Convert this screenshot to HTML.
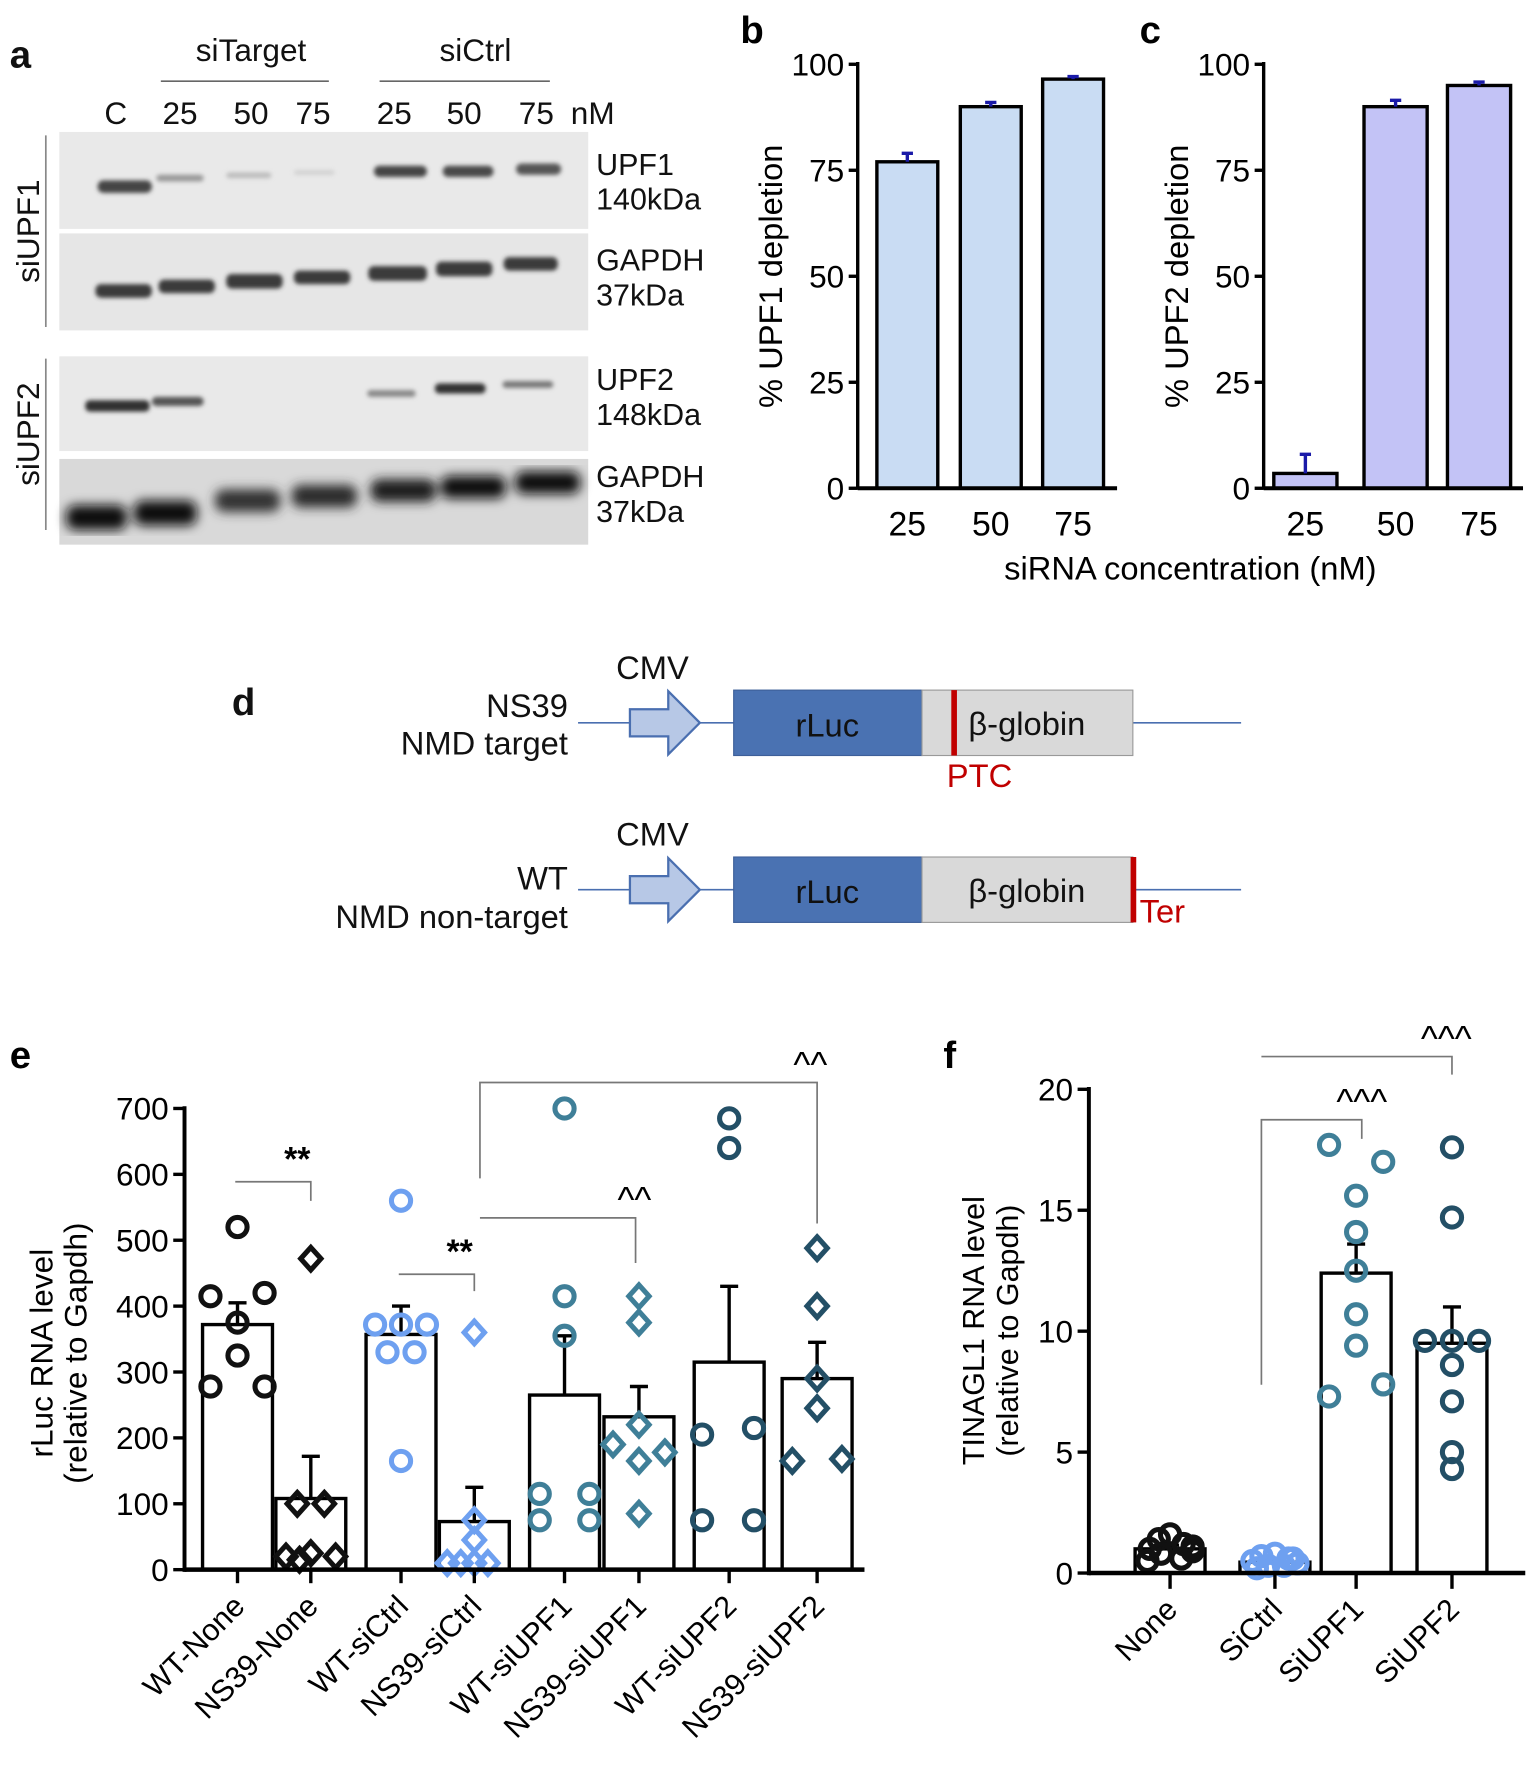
<!DOCTYPE html>
<html><head><meta charset="utf-8"><style>
html,body{margin:0;padding:0;background:#fff}
svg{display:block;font-family:"Liberation Sans",Arial,sans-serif}
</style></head><body>
<svg id="fig" width="1535" height="1767" viewBox="0 0 1360 1567" xmlns="http://www.w3.org/2000/svg">
<defs>
<filter id="blur1"><feGaussianBlur stdDeviation="2"/></filter>
<filter id="blur2"><feGaussianBlur stdDeviation="5"/></filter>
</defs>
<!-- Panel a -->
<g font-size="28" fill="#111">
<text x="8" y="60" font-weight="bold" font-size="34">a</text>
<text x="222" y="54" text-anchor="middle">siTarget</text>
<line x1="142" y1="72" x2="291" y2="72" stroke="#666" stroke-width="1.5"/>
<text x="421" y="54" text-anchor="middle">siCtrl</text>
<line x1="336" y1="72" x2="487" y2="72" stroke="#666" stroke-width="1.5"/>
<g text-anchor="middle">
<text x="102" y="110">C</text><text x="159" y="110">25</text><text x="222" y="110">50</text><text x="277" y="110">75</text>
<text x="349" y="110">25</text><text x="411" y="110">50</text><text x="475" y="110">75</text><text x="525" y="110">nM</text>
</g>
<rect x="52" y="117" width="469" height="86" fill="#e9e9e9"/>
<rect x="52" y="207" width="469" height="86" fill="#e6e6e6"/>
<rect x="52" y="316" width="469" height="84" fill="#e9e9e9"/>
<rect x="52" y="407" width="469" height="76" fill="#d9d9d9"/>
<g filter="url(#blur1)">
<rect x="86" y="160" width="48" height="11" rx="5" fill="#444"/>
<rect x="138" y="155" width="42" height="6" rx="3" fill="#999"/>
<rect x="200" y="153" width="40" height="5" rx="3" fill="#bbb"/>
<rect x="260" y="151" width="36" height="4" rx="2" fill="#d0d0d0"/>
<rect x="331" y="147" width="47" height="10" rx="5" fill="#444"/>
<rect x="392" y="147" width="45" height="10" rx="5" fill="#4a4a4a"/>
<rect x="457" y="145" width="40" height="10" rx="5" fill="#555"/>
<rect x="84" y="252" width="50" height="12" rx="5" fill="#3a3a3a"/>
<rect x="140" y="248" width="50" height="12" rx="5" fill="#3a3a3a"/>
<rect x="200" y="243" width="50" height="13" rx="5" fill="#3a3a3a"/>
<rect x="260" y="240" width="50" height="12" rx="5" fill="#3a3a3a"/>
<rect x="326" y="236" width="52" height="13" rx="5" fill="#3a3a3a"/>
<rect x="386" y="232" width="50" height="13" rx="5" fill="#3a3a3a"/>
<rect x="446" y="228" width="48" height="12" rx="5" fill="#3a3a3a"/>
<rect x="75" y="355" width="57" height="10" rx="4" fill="#333"/>
<rect x="134" y="352" width="46" height="8" rx="4" fill="#555"/>
<rect x="325" y="346" width="43" height="6" rx="3" fill="#888"/>
<rect x="385" y="340" width="45" height="9" rx="4" fill="#333"/>
<rect x="445" y="338" width="45" height="6" rx="3" fill="#777"/>
</g>
<g filter="url(#blur2)" fill="#111">
<rect x="58" y="448" width="54" height="22" rx="8"/>
<rect x="118" y="444" width="56" height="22" rx="8"/>
<rect x="190" y="434" width="58" height="20" rx="8" fill="#333"/>
<rect x="258" y="430" width="58" height="20" rx="8" fill="#2a2a2a"/>
<rect x="328" y="425" width="58" height="20" rx="8" fill="#1a1a1a"/>
<rect x="390" y="422" width="58" height="20" rx="8"/>
<rect x="456" y="418" width="58" height="20" rx="8"/>
</g>
<text transform="translate(34,205) rotate(-90)" text-anchor="middle">siUPF1</text>
<line x1="40" y1="120" x2="40" y2="290" stroke="#888" stroke-width="1.5"/>
<text transform="translate(34,385) rotate(-90)" text-anchor="middle">siUPF2</text>
<line x1="40" y1="318" x2="40" y2="470" stroke="#888" stroke-width="1.5"/>
<g font-size="27">
<text x="528" y="155">UPF1</text><text x="528" y="186">140kDa</text>
<text x="528" y="240">GAPDH</text><text x="528" y="271">37kDa</text>
<text x="528" y="346">UPF2</text><text x="528" y="377">148kDa</text>
<text x="528" y="432">GAPDH</text><text x="528" y="463">37kDa</text>
</g>
</g>
<g id="pb"></g>
<g id="pc"></g>
<text x="656" y="38" font-weight="bold" font-size="34">b</text>
<text x="1010" y="38" font-weight="bold" font-size="34">c</text>
<text x="1055" y="514" text-anchor="middle" font-size="29">siRNA concentration (nM)</text>
<!-- Panel d -->
<g font-size="29" fill="#111">
<text x="205" y="634" font-weight="bold" font-size="34">d</text>
<g>
<text x="578" y="602" text-anchor="middle">CMV</text>
<text x="503" y="636" text-anchor="end">NS39</text>
<text x="503" y="669" text-anchor="end">NMD target</text>
<line x1="512" y1="641" x2="1100" y2="641" stroke="#4a6fb0" stroke-width="1.5"/>
<path d="M558,629 H592 V613 L620,641 L592,669 V653 H558 Z" fill="#b7c8e6" stroke="#4a6fb0" stroke-width="2"/>
<rect x="650" y="612" width="167" height="58" fill="#4a72b2" stroke="#3d5f99"/>
<rect x="817" y="612" width="187" height="58" fill="#d9d9d9" stroke="#999"/>
<text x="733" y="653" text-anchor="middle">rLuc</text>
<text x="910" y="652" text-anchor="middle">β-globin</text>
<rect x="843" y="612" width="5" height="58" fill="#c00000"/>
<text x="868" y="698" text-anchor="middle" fill="#c00000">PTC</text>
</g>
<g>
<text x="578" y="750" text-anchor="middle">CMV</text>
<text x="503" y="789" text-anchor="end">WT</text>
<text x="503" y="823" text-anchor="end">NMD non-target</text>
<line x1="512" y1="789" x2="1100" y2="789" stroke="#4a6fb0" stroke-width="1.5"/>
<path d="M558,777 H592 V761 L620,789 L592,817 V801 H558 Z" fill="#b7c8e6" stroke="#4a6fb0" stroke-width="2"/>
<rect x="650" y="760" width="167" height="58" fill="#4a72b2" stroke="#3d5f99"/>
<rect x="817" y="760" width="187" height="58" fill="#d9d9d9" stroke="#999"/>
<text x="733" y="801" text-anchor="middle">rLuc</text>
<text x="910" y="800" text-anchor="middle">β-globin</text>
<rect x="1002" y="760" width="5" height="58" fill="#c00000"/>
<text x="1010" y="818" fill="#c00000">Ter</text>
</g>
</g>
<g id="pe"></g>
<g id="pf"></g>
<text x="8" y="947" font-weight="bold" font-size="34">e</text>
<text x="836" y="947" font-weight="bold" font-size="34">f</text>
</svg>
<script>
// ---- data ----
const bcCats = ["25","50","75"];
const bVals = [77, 90, 96.5];
const bErr = [2, 1, 0.6];
const cVals = [3.5, 90, 95];
const cErr = [4.5, 1.5, 0.8];
const bcTicks = [0,25,50,75,100];

const eCats = ["WT-None","NS39-None","WT-siCtrl","NS39-siCtrl","WT-siUPF1","NS39-siUPF1","WT-siUPF2","NS39-siUPF2"];
const eMeans = [372,108,357,73,265,232,315,290];
const eSem = [33,64,43,52,90,46,115,55];
const ePts = [
 [520,415,420,375,325,278,278],
 [472,100,100,20,25,20,15],
 [560,372,372,372,330,330,165],
 [360,75,45,10,10,10,10],
 [700,415,355,115,75,115,75],
 [415,375,220,190,165,178,85],
 [685,640,205,215,75,75],
 [488,400,290,245,165,168]
];
const eTicks = [0,100,200,300,400,500,600,700];

const fCats = ["None","SiCtrl","SiUPF1","SiUPF2"];
const fMeans = [1.0,0.45,12.4,9.5];
const fSem = [0.15,0.1,1.2,1.5];
const fPts = [
 [1.6,1.4,1.2,1.0,0.9,0.8,0.6,0.5,1.1],
 [0.8,0.7,0.6,0.5,0.4,0.3,0.3,0.2,0.6],
 [17.7,17.0,15.6,14.1,12.5,10.7,9.4,7.3,7.8],
 [17.6,14.7,9.6,9.6,9.6,8.6,7.1,5.0,4.3]
];
const fTicks = [0,5,10,15,20];

const NS="http://www.w3.org/2000/svg";
function mk(parent,tag,attrs,text){const e=document.createElementNS(NS,tag);for(const k in attrs)e.setAttribute(k,attrs[k]);if(text!==undefined)e.textContent=text;parent.appendChild(e);return e;}

// ---- panels b & c ----
function barPanel(g,x0,xEnd,vals,errs,fill,bxs,bw,title){
  const y0=433,y1=57,max=100;
  const Y=v=>y0-(v/max)*(y0-y1);
  vals.forEach((v,i)=>{
    const cx=bxs[i];
    const r=mk(g,'rect',{x:cx-bw/2,y:Y(v),width:bw,height:y0-Y(v),fill:fill,stroke:'#000','stroke-width':3});
    
    
    const e=mk(g,'path',{d:`M${cx},${Y(v)} V${Y(v+errs[i])} M${cx-5},${Y(v+errs[i])} H${cx+5}`,stroke:'#1a1aa8','stroke-width':3,fill:'none'});
    
    
    const t=mk(g,'text',{x:cx,y:475,'text-anchor':'middle','font-size':30},bcCats[i]);
    
    
  });
  mk(g,'line',{x1:x0,y1:y1-2,x2:x0,y2:y0+1,stroke:'#000','stroke-width':3});
  mk(g,'line',{x1:x0,y1:y0,x2:xEnd,y2:y0,stroke:'#000','stroke-width':3.5});
  bcTicks.forEach(t=>{
    mk(g,'line',{x1:x0-8,y1:Y(t),x2:x0,y2:Y(t),stroke:'#000','stroke-width':3});
    const l=mk(g,'text',{x:x0-12,y:Y(t)+10,'text-anchor':'end','font-size':28},t);
    
    
  });
  const tt=mk(g,'text',{transform:`translate(${x0-67},245) rotate(-90)`,'text-anchor':'middle','font-size':29},title);
  
  
}
barPanel(document.getElementById('pb'),760,990,bVals,bErr,'#c9dcf3',[804,878,951],54,'% UPF1 depletion');
barPanel(document.getElementById('pc'),1120,1350,cVals,cErr,'#c3c3f6',[1157,1237,1311],56,'% UPF2 depletion');

function marker(g,shape,cx,cy,col){
  if(shape==='c') return mk(g,'circle',{cx:cx,cy:cy,r:8.5,fill:'none',stroke:col,'stroke-width':4.5});
  return mk(g,'path',{d:`M${cx},${cy-10} L${cx+9},${cy} L${cx},${cy+10} L${cx-9},${cy} Z`,fill:'none',stroke:col,'stroke-width':4.5});
}

// ---- panel e ----
(function(){
  const g=document.getElementById('pe');
  const x0=163,y0=1392,y1=983,max=700;
  const Y=v=>y0-(v/max)*(y0-y1);
  const X=i=>[210,275,355,420,500,566,646,724][i];
  const cols=['#111','#111','#6ea0f0','#6ea0f0','#3f7f98','#3f7f98','#234f66','#234f66'];
  const offs=[[0,-24,24,0,0,-24,24],[0,-12,12,-22,0,22,-10],[0,-23,0,23,-12,12,0],[0,0,0,-24,-12,0,12],[0,0,0,-22,-22,22,22],[0,0,0,-23,0,23,0],[0,0,-24,22,-24,22],[0,0,0,0,-22,22]];
  eMeans.forEach((m,i)=>{
    const cx=X(i);
    mk(g,'path',{d:`M${cx},${Y(m)} V${Y(m+eSem[i])} M${cx-8},${Y(m+eSem[i])} H${cx+8}`,stroke:'#000','stroke-width':3,fill:'none'});
    const b=mk(g,'rect',{x:cx-31,y:Y(m),width:62,height:y0-Y(m),fill:'none',stroke:'#000','stroke-width':3});
    
    
    ePts[i].forEach((v,j)=>{
      const p=marker(g,i%2===0?'c':'d',cx+(offs[i][j]||0),Y(v),cols[i]);
      
      
    });
    mk(g,'line',{x1:cx,y1:y0,x2:cx,y2:y0+12,stroke:'#000','stroke-width':3});
    const t=mk(g,'text',{transform:`translate(${cx+8},${y0+34}) rotate(-45)`,'text-anchor':'end','font-size':27},eCats[i]);
    
    
  });
  mk(g,'line',{x1:x0,y1:y1-2,x2:x0,y2:y0+2,stroke:'#000','stroke-width':3.5});
  mk(g,'line',{x1:x0,y1:y0,x2:766,y2:y0,stroke:'#000','stroke-width':4});
  eTicks.forEach(t=>{
    mk(g,'line',{x1:x0-10,y1:Y(t),x2:x0,y2:Y(t),stroke:'#000','stroke-width':3});
    const l=mk(g,'text',{x:x0-14,y:Y(t)+10,'text-anchor':'end','font-size':28},t);
    
    
  });
  const br='#777';
  mk(g,'path',{d:`M${X(0)-2},1048 H${X(1)} V1065`,stroke:br,fill:'none','stroke-width':1.5});
  mk(g,'text',{x:263,y:1038,'text-anchor':'middle','font-size':30,'font-weight':'bold'},'**');
  mk(g,'path',{d:`M${X(2)-2},1130 H${X(3)} V1145`,stroke:br,fill:'none','stroke-width':1.5});
  mk(g,'text',{x:407,y:1120,'text-anchor':'middle','font-size':30,'font-weight':'bold'},'**');
  mk(g,'path',{d:`M425,1080 H${X(5)-3} V1120`,stroke:br,fill:'none','stroke-width':1.5});
  mk(g,'text',{x:562,y:1075,'text-anchor':'middle','font-size':32},'^^');
  mk(g,'path',{d:`M425,1045 V960 H${X(7)} V1085`,stroke:br,fill:'none','stroke-width':1.5});
  mk(g,'text',{x:718,y:955,'text-anchor':'middle','font-size':32},'^^');
  const a=mk(g,'text',{transform:'translate(46,1200) rotate(-90)','text-anchor':'middle','font-size':28},'rLuc RNA level');
  
  
  mk(g,'text',{transform:'translate(76,1200) rotate(-90)','text-anchor':'middle','font-size':28},'(relative to Gapdh)');
})();

// ---- panel f ----
(function(){
  const g=document.getElementById('pf');
  const x0=965,y0=1395,y1=966,max=20;
  const Y=v=>y0-(v/max)*(y0-y1);
  const X=i=>[1037,1130,1202,1287][i];
  const cols=['#111','#6ea0f0','#3f7f98','#234f66'];
  const offs=[[0,-10,12,-18,20,-8,10,-20,20],[0,-12,12,-20,20,-6,8,-16,16],[-24,24,0,0,0,0,0,-24,24],[0,0,-24,0,24,0,0,0,0]];
  fMeans.forEach((m,i)=>{
    const cx=X(i);
    mk(g,'path',{d:`M${cx},${Y(m)} V${Y(m+fSem[i])} M${cx-8},${Y(m+fSem[i])} H${cx+8}`,stroke:'#000','stroke-width':3,fill:'none'});
    const b=mk(g,'rect',{x:cx-31,y:Y(m),width:62,height:y0-Y(m),fill:'none',stroke:'#000','stroke-width':3});
    
    
    fPts[i].forEach((v,j)=>{
      const p=marker(g,'c',cx+(offs[i][j]||0),Y(v),cols[i]);
      
      
    });
    mk(g,'line',{x1:cx,y1:y0,x2:cx,y2:y0+14,stroke:'#000','stroke-width':3});
    const t=mk(g,'text',{transform:`translate(${cx+8},${y0+34}) rotate(-45)`,'text-anchor':'end','font-size':27},fCats[i]);
    
    
  });
  mk(g,'line',{x1:x0,y1:y1-2,x2:x0,y2:y0+2,stroke:'#000','stroke-width':3.5});
  mk(g,'line',{x1:x0,y1:y0,x2:1352,y2:y0,stroke:'#000','stroke-width':4});
  fTicks.forEach(t=>{
    mk(g,'line',{x1:x0-10,y1:Y(t),x2:x0,y2:Y(t),stroke:'#000','stroke-width':3});
    const l=mk(g,'text',{x:x0-14,y:Y(t)+10,'text-anchor':'end','font-size':28},t);
    
    
  });
  const br='#777';
  mk(g,'path',{d:`M1118,1228 V993 H1207 V1010`,stroke:br,fill:'none','stroke-width':1.5});
  mk(g,'text',{x:1207,y:988,'text-anchor':'middle','font-size':32},'^^^');
  mk(g,'path',{d:`M1118,937 H1287 V953`,stroke:br,fill:'none','stroke-width':1.5});
  mk(g,'text',{x:1282,y:932,'text-anchor':'middle','font-size':32},'^^^');
  const a=mk(g,'text',{transform:'translate(872,1180) rotate(-90)','text-anchor':'middle','font-size':27},'TINAGL1 RNA level');
  
  
  mk(g,'text',{transform:'translate(902,1180) rotate(-90)','text-anchor':'middle','font-size':27},'(relative to  Gapdh)');
})();
</script>
</body></html>
